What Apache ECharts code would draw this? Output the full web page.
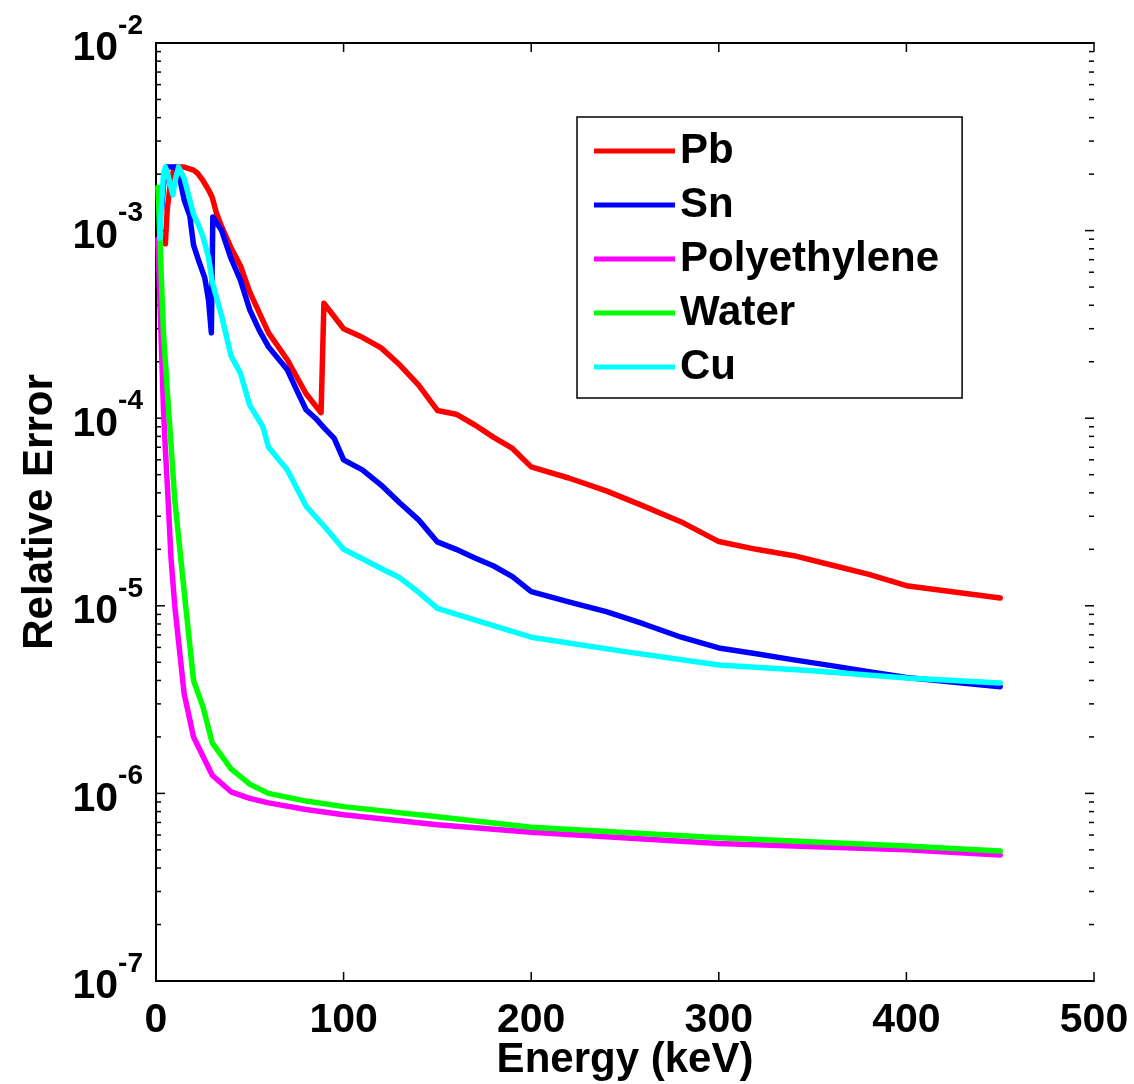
<!DOCTYPE html>
<html><head><meta charset="utf-8">
<script src="https://cdn.jsdelivr.net/npm/echarts@6/dist/echarts.min.js"></script>
<style>html,body{margin:0;padding:0;background:#fff}#c{width:1134px;height:1084px}</style>
</head><body><div id="c"></div>
<script>
// ---- data ----
const xTickValues = [0, 100, 200, 300, 400, 500];
const yTickExponents = [-7, -6, -5, -4, -3, -2];
const seriesNames = ['Pb', 'Sn', 'Polyethylene', 'Water', 'Cu'];

const pbEnergy = [5,6,8,10,15,20,22,25,28,30,32,35,40,45,50,60,70,80,88,89.5,100,110,120,130,140,150,160,170,180,190,200,220,240,260,280,300,320,340,360,380,400,450];
const pbError  = [8.5e-4,1.3e-3,1.9e-3,2.18e-3,2.18e-3,2.1e-3,2.03e-3,1.85e-3,1.65e-3,1.5e-3,1.26e-3,1.05e-3,8.1e-4,6.5e-4,4.7e-4,2.85e-4,2.05e-4,1.35e-4,1.07e-4,4.1e-4,3.0e-4,2.7e-4,2.37e-4,1.92e-4,1.5e-4,1.1e-4,1.05e-4,9.2e-5,7.9e-5,6.9e-5,5.5e-5,4.8e-5,4.1e-5,3.4e-5,2.8e-5,2.2e-5,2.0e-5,1.85e-5,1.65e-5,1.47e-5,1.28e-5,1.1e-5];

const snEnergy = [3,4,5,6,8,10,12,15,18,20,23,26,28,29.5,30.3,35,40,45,50,55,60,70,75,80,85,90,95,100,110,120,130,140,150,160,170,180,190,200,220,240,260,280,300,320,340,360,380,400,450];
const snError  = [1.3e-3,1.75e-3,2.1e-3,2.18e-3,2.18e-3,2.18e-3,2.05e-3,1.46e-3,1.2e-3,8.4e-4,6.8e-4,5.6e-4,4.27e-4,2.85e-4,1.18e-3,1.0e-3,7.1e-4,5.45e-4,3.78e-4,2.95e-4,2.4e-4,1.81e-4,1.41e-4,1.11e-4,1.0e-4,8.8e-5,7.8e-5,6.0e-5,5.3e-5,4.4e-5,3.53e-5,2.87e-5,2.19e-5,2.0e-5,1.8e-5,1.63e-5,1.43e-5,1.19e-5,1.05e-5,9.3e-6,8.0e-6,6.8e-6,5.96e-6,5.55e-6,5.15e-6,4.8e-6,4.45e-6,4.15e-6,3.7e-6];

const polyEnergy = [1,2,3,4,5,6,8,10,15,20,30,40,50,60,80,100,150,200,300,400,450];
const polyError  = [9.0e-4,4.5e-4,2.2e-4,1.1e-4,6.8e-5,4.5e-5,1.8e-5,1.0e-5,3.4e-6,2.0e-6,1.25e-6,1.02e-6,9.4e-7,8.9e-7,8.2e-7,7.7e-7,6.8e-7,6.2e-7,5.4e-7,5.0e-7,4.7e-7];

const waterEnergy = [1,2,3,4,5,6,8,10,15,20,25,30,40,50,60,80,100,150,200,300,400,450];
const waterError  = [1.7e-3,9.5e-4,5.1e-4,2.8e-4,2.0e-4,1.41e-4,7.3e-5,3.67e-5,1.2e-5,4.0e-6,2.9e-6,1.86e-6,1.35e-6,1.12e-6,1.0e-6,9.1e-7,8.5e-7,7.5e-7,6.6e-7,5.8e-7,5.25e-7,4.93e-7];

const cuEnergy = [2,3,4,5,6,8,9,10,12,15,18,20,23,25,28,30,35,40,45,50,57,60,70,80,90,100,110,120,130,140,150,175,200,250,300,350,400,450];
const cuError  = [9.1e-4,1.4e-3,2.0e-3,2.18e-3,2.05e-3,1.7e-3,1.55e-3,1.8e-3,2.18e-3,1.9e-3,1.46e-3,1.22e-3,1.05e-3,9.3e-4,7.2e-4,5.3e-4,3.5e-4,2.15e-4,1.74e-4,1.17e-4,9.0e-5,7.0e-5,5.3e-5,3.4e-5,2.63e-5,2.0e-5,1.78e-5,1.58e-5,1.41e-5,1.18e-5,9.7e-6,8.1e-6,6.8e-6,5.7e-6,4.83e-6,4.5e-6,4.12e-6,3.88e-6];

// ---- chart ----
const FONT = '"Liberation Sans", Arial, Helvetica, sans-serif';
const colors = ['#ff0000', '#0000ff', '#ff00ff', '#00ff00', '#00ffff'];
const energies = [pbEnergy, snEnergy, polyEnergy, waterEnergy, cuEnergy];
const errors = [pbError, snError, polyError, waterError, cuError];

const yMin = Math.pow(10, yTickExponents[0]);
const yMax = Math.pow(10, yTickExponents[yTickExponents.length - 1]);

const yMajorTicks = yTickExponents.map(e => [0, Math.pow(10, e)]);
const yMinorTicks = [];
for (let i = 0; i < yTickExponents.length - 1; i++) {
  for (let m = 2; m <= 9; m++) yMinorTicks.push([0, m * Math.pow(10, yTickExponents[i])]);
}
const xMajorTicks = xTickValues.map(v => [v, yMin]);

function pair(xs, ys) { return xs.map((x, i) => [x, ys[i]]); }

const lineSeries = seriesNames.map((name, i) => ({
  name: name,
  type: 'line',
  data: pair(energies[i], errors[i]),
  showSymbol: false,
  symbol: 'none',
  lineStyle: { color: colors[i], width: 5.5, join: 'round', cap: 'round' },
  itemStyle: { color: colors[i] },
  clip: true,
  z: 3 + i
}));

function yTickRenderer(len) {
  return function (params, api) {
    const cs = params.coordSys;
    const y = api.coord([0, api.value(1)])[1];
    return { type: 'group', children: [
      { type: 'line', shape: { x1: cs.x, y1: y, x2: cs.x + len, y2: y }, style: { stroke: '#000', lineWidth: 1.5 } },
      { type: 'line', shape: { x1: cs.x + cs.width - len, y1: y, x2: cs.x + cs.width, y2: y }, style: { stroke: '#000', lineWidth: 1.5 } }
    ]};
  };
}
function xTickRenderer(len) {
  return function (params, api) {
    const cs = params.coordSys;
    const x = api.coord([api.value(0), yMin])[0];
    return { type: 'group', children: [
      { type: 'line', shape: { x1: x, y1: cs.y + cs.height, x2: x, y2: cs.y + cs.height - len }, style: { stroke: '#000', lineWidth: 1.5 } },
      { type: 'line', shape: { x1: x, y1: cs.y, x2: x, y2: cs.y + len }, style: { stroke: '#000', lineWidth: 1.5 } }
    ]};
  };
}

const axisLineStyle = { lineStyle: { color: '#000', width: 2 } };

const option = {
  animation: false,
  backgroundColor: '#fff',
  grid: { left: 156, top: 43, right: 40, bottom: 103, containLabel: false, outerBoundsMode: 'none' },
  legend: {
    data: seriesNames.map((n, i) => ({ name: n, icon: 'rect', itemStyle: { color: colors[i] } })),
    orient: 'vertical',
    left: 577, top: 117,
    padding: [10, 23, 7, 17],
    itemWidth: 81, itemHeight: 5,
    itemGap: 6,
    itemTextGap: 12,
    backgroundColor: '#fff',
    borderColor: '#000', borderWidth: 1.5, borderRadius: 0,
    selectedMode: false,
    textStyle: { fontFamily: FONT, fontWeight: 'bold', fontSize: 42, color: '#000', lineHeight: 42, padding: [6, 0, 0, 0] }
  },
  xAxis: [{
    type: 'value', min: xTickValues[0], max: xTickValues[xTickValues.length - 1], interval: 100,
    position: 'bottom',
    name: 'Energy (keV)', nameLocation: 'middle', nameGap: 58, nameMoveOverlap: false,
    nameTextStyle: { fontFamily: FONT, fontWeight: 'bold', fontSize: 42, color: '#000', lineHeight: 42 },
    axisLine: axisLineStyle,
    axisTick: { show: false },
    axisLabel: { margin: 19, fontFamily: FONT, fontWeight: 'bold', fontSize: 41, color: '#000' },
    splitLine: { show: false }
  }, {
    type: 'value', min: xTickValues[0], max: xTickValues[xTickValues.length - 1], interval: 100,
    position: 'top',
    axisLine: axisLineStyle,
    axisTick: { show: false },
    axisLabel: { show: false },
    splitLine: { show: false }
  }],
  yAxis: [{
    type: 'log', logBase: 10, min: yMin, max: yMax,
    position: 'left',
    name: 'Relative Error', nameLocation: 'middle', nameGap: 95, nameRotate: 90, nameMoveOverlap: false,
    nameTextStyle: { fontFamily: FONT, fontWeight: 'bold', fontSize: 42, color: '#000' },
    axisLine: axisLineStyle,
    axisTick: { show: false },
    axisLabel: {
      margin: 13,
      formatter: function (v) { return '{b|10}{s|' + Math.round(Math.log10(v)) + '}'; },
      rich: {
        b: { fontFamily: FONT, fontWeight: 'bold', fontSize: 41, color: '#000', lineHeight: 44, padding: [12, 0, 0, 0] },
        s: { fontFamily: FONT, fontWeight: 'bold', fontSize: 28, color: '#000', lineHeight: 28, padding: [0, 0, 34, 0] }
      }
    },
    splitLine: { show: false }
  }, {
    type: 'log', logBase: 10, min: yMin, max: yMax,
    position: 'right',
    axisLine: axisLineStyle,
    axisTick: { show: false },
    axisLabel: { show: false },
    splitLine: { show: false }
  }],
  series: [{
    name: 'yMajorTicks', type: 'custom', silent: true,
    data: yMajorTicks, encode: { x: 0, y: 1 },
    renderItem: yTickRenderer(9), z: 2
  }, {
    name: 'yMinorTicks', type: 'custom', silent: true,
    data: yMinorTicks, encode: { x: 0, y: 1 },
    renderItem: yTickRenderer(5), z: 2
  }, {
    name: 'xMajorTicks', type: 'custom', silent: true,
    data: xMajorTicks, encode: { x: 0, y: 1 },
    renderItem: xTickRenderer(9), z: 2
  }].concat(lineSeries)
};
const chart = echarts.init(document.getElementById('c'));
chart.setOption(option);
</script>
</body></html>
